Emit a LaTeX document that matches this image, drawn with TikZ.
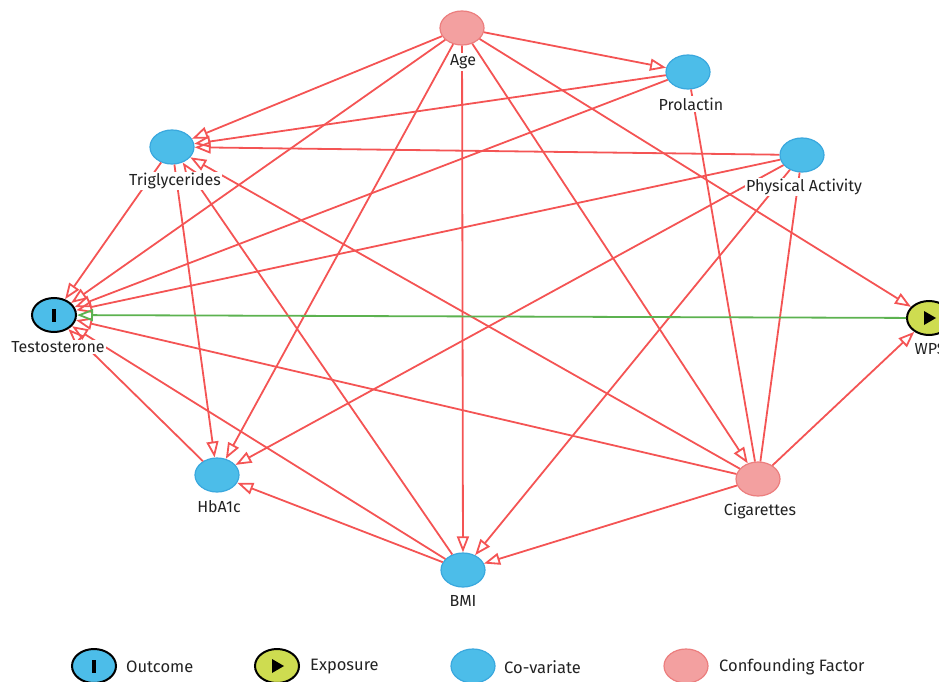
\documentclass[tikz,border=0pt]{standalone}
\usepackage{fontspec}
\setmainfont{Fira Sans}
\usetikzlibrary{shapes.geometric,arrows.meta,calc}
\definecolor{cov}{RGB}{76,189,233}
\definecolor{covb}{RGB}{58,168,222}
\definecolor{conf}{RGB}{243,160,160}
\definecolor{confb}{RGB}{236,126,126}
\definecolor{expo}{RGB}{206,220,80}
\definecolor{edg}{RGB}{244,84,84}
\definecolor{grn}{RGB}{92,178,80}
\definecolor{txt}{RGB}{34,34,34}
\begin{document}
\begin{tikzpicture}[x=1pt,y=-1pt,
 vtx/.style={ellipse,minimum width=44pt,minimum height=34pt,inner sep=0pt,line width=1.2pt},
 covn/.style={vtx,fill=cov,draw=covb},
 confn/.style={vtx,fill=conf,draw=confb},
 outn/.style={vtx,fill=cov,draw=black,line width=2pt},
 expn/.style={vtx,fill=expo,draw=black,line width=2pt},
 lab/.style={fill=white,inner sep=1.5pt,text=txt,font=\fontsize{16}{16}\selectfont},
 leg/.style={anchor=west,inner sep=0pt,text=txt,font=\fontsize{16.5}{16.5}\selectfont},
 link/.style={draw=edg,line width=1.8pt},
 edge/.style={link,-{Triangle[open,length=16pt,width=12pt]}},
 gedge/.style={edge,draw=grn},
]
\useasboundingbox (0,0) rectangle (939,682);
% nodes
\node[confn] (age) at (462,28) {};
\node[covn] (prol) at (688,72) {};
\node[covn] (trig) at (172,147) {};
\node[covn] (pa) at (802,155) {};
\node[outn] (test) at (54,315) {};
\node[expn] (wps) at (929,318) {};
\node[covn] (hba) at (217,475) {};
\node[confn] (cig) at (758,479) {};
\node[covn] (bmi) at (463,570) {};
% edges
\draw[edge] (age) -- (prol);
\draw[edge] (age) -- (trig);
\draw[edge] (age) -- (test);
\draw[edge] (age) -- (hba);
\draw[edge] (age) -- (bmi);
\draw[edge] (age) -- (cig);
\draw[edge] (age) -- (wps);
\draw[edge] (prol) -- (trig);
\draw[edge] (prol) -- (test);
\draw[link] (cig) -- (prol);
\draw[edge] (pa) -- (trig);
\draw[edge] (pa) -- (test);
\draw[edge] (pa) -- (hba);
\draw[edge] (pa) -- (bmi);
\draw[link] (cig) -- (pa);
\draw[edge] (trig) -- (test);
\draw[edge] (trig) -- (hba);
\draw[edge] (bmi) -- (trig);
\draw[edge] (cig) -- (trig);
\draw[edge] (hba) -- (test);
\draw[edge] (bmi) -- (test);
\draw[edge] (cig) -- (test);
\draw[edge] (bmi) -- (hba);
\draw[edge] (cig) -- (bmi);
\draw[edge] (cig) -- (wps);
\draw[gedge] (wps) -- (test);
% glyphs in outcome / exposure nodes
\fill[black] ($(test)+(-2,-6.5)$) rectangle ($(test)+(2,6.5)$);
\fill[black] ($(wps)+(-5,-7)$) -- ($(wps)+(7,0)$) -- ($(wps)+(-5,7)$) -- cycle;
% labels
\node[lab] (agel) at ($(age)+(1,34)$) {Age};
\node[lab] (proll) at ($(prol)+(3,32)$) {Prolactin};
\node[lab] (trigl) at ($(trig)+(3,34)$) {Triglycerides};
\node[lab] (pal) at ($(pa)+(2,32)$) {Physical Activity};
\node[lab] (testl) at ($(test)+(4,32)$) {Testosterone};
\node[lab] (wpsl) at ($(wps)+(1,31)$) {WPS};
\node[lab] (hbal) at ($(hba)+(2,32)$) {HbA1c};
\node[lab] (cigl) at ($(cig)+(2,32)$) {Cigarettes};
\node[lab] (bmil) at ($(bmi)+(0,31)$) {BMI};
% legend
\node[outn] (lo) at (94,666) {};
\fill[black] ($(lo)+(-2,-6.5)$) rectangle ($(lo)+(2,6.5)$);
\node[leg] (lot) at (126,667) {Outcome};
\node[expn] (le) at (277,666) {};
\fill[black] ($(le)+(-5,-7)$) -- ($(le)+(7,0)$) -- ($(le)+(-5,7)$) -- cycle;
\node[leg] (let) at (310,667) {Exposure};
\node[covn] (lc) at (473,666) {};
\node[leg] (lct) at (504,667) {Co-variate};
\node[confn] (lf) at (686,666) {};
\node[leg] (lft) at (719,667) {Confounding Factor};
\end{tikzpicture}
\end{document}
